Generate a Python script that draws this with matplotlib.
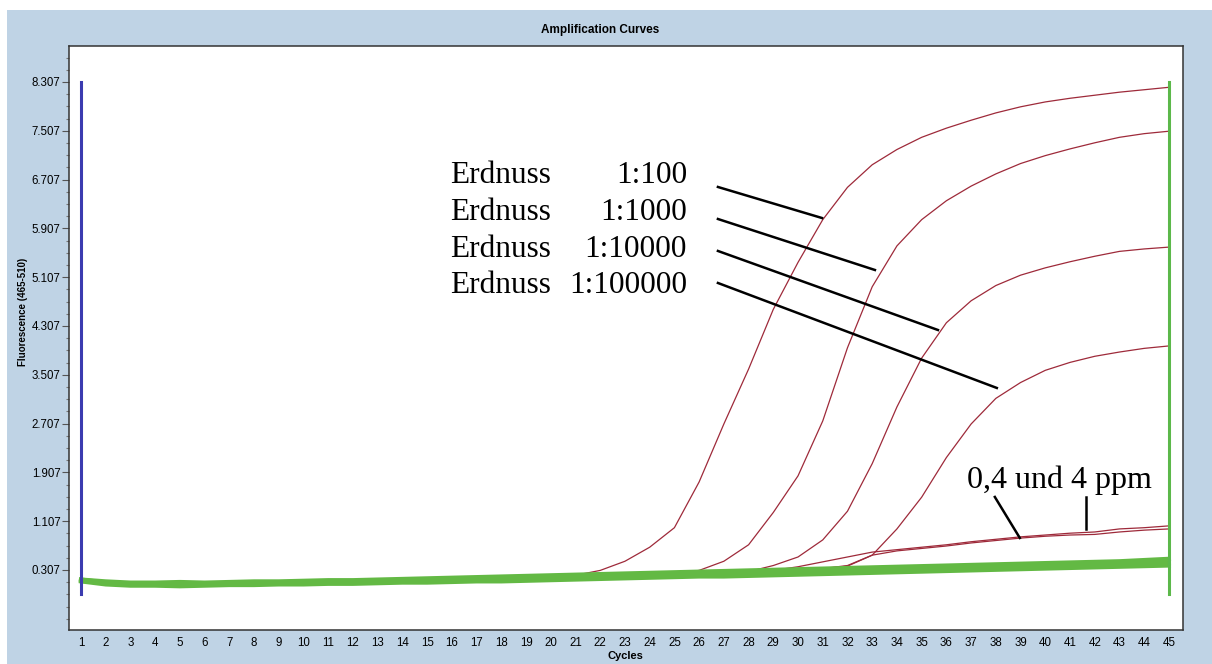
import numpy as np
import matplotlib.pyplot as plt
from matplotlib.patches import Rectangle

cycles = np.arange(1, 46)

# peanut dilution series
erdnuss_100 = [0.14, 0.10, 0.08, 0.08, 0.08, 0.07, 0.08, 0.08, 0.09, 0.09,
               0.10, 0.10, 0.11, 0.12, 0.13, 0.13, 0.14, 0.15, 0.16, 0.18,
               0.22, 0.30, 0.45, 0.68, 1.00, 1.75, 2.70, 3.60, 4.58, 5.35,
               6.05, 6.58, 6.95, 7.20, 7.40, 7.55, 7.68, 7.80, 7.90, 7.98,
               8.04, 8.09, 8.14, 8.18, 8.22]
erdnuss_1000 = [0.13, 0.09, 0.07, 0.07, 0.07, 0.07, 0.08, 0.08, 0.09, 0.09,
                0.10, 0.10, 0.11, 0.12, 0.12, 0.13, 0.14, 0.15, 0.16, 0.17,
                0.18, 0.19, 0.21, 0.22, 0.24, 0.30, 0.45, 0.72, 1.25, 1.85,
                2.75, 3.95, 4.95, 5.62, 6.05, 6.36, 6.60, 6.80, 6.97, 7.10,
                7.21, 7.31, 7.40, 7.46, 7.50]
erdnuss_10000 = [0.12, 0.09, 0.07, 0.06, 0.07, 0.06, 0.07, 0.08, 0.08, 0.09,
                 0.09, 0.10, 0.11, 0.11, 0.12, 0.13, 0.14, 0.15, 0.16, 0.17,
                 0.17, 0.18, 0.19, 0.20, 0.21, 0.23, 0.25, 0.28, 0.38, 0.52,
                 0.80, 1.27, 2.05, 2.98, 3.78, 4.36, 4.72, 4.97, 5.14, 5.26,
                 5.36, 5.45, 5.53, 5.57, 5.60]
erdnuss_100000 = [0.14, 0.10, 0.08, 0.07, 0.07, 0.07, 0.07, 0.08, 0.08, 0.09,
                  0.10, 0.10, 0.11, 0.12, 0.12, 0.13, 0.14, 0.15, 0.15, 0.16,
                  0.17, 0.18, 0.19, 0.20, 0.21, 0.22, 0.23, 0.25, 0.27, 0.30,
                  0.33, 0.37, 0.55, 0.98, 1.50, 2.15, 2.70, 3.12, 3.38, 3.58,
                  3.71, 3.81, 3.88, 3.94, 3.98]

# 0.4 and 4 ppm samples
ppm_4 = [0.13, 0.10, 0.08, 0.07, 0.07, 0.07, 0.08, 0.08, 0.09, 0.09,
         0.10, 0.11, 0.11, 0.12, 0.13, 0.13, 0.14, 0.15, 0.16, 0.17,
         0.18, 0.19, 0.20, 0.21, 0.22, 0.23, 0.24, 0.26, 0.30, 0.36,
         0.44, 0.52, 0.60, 0.64, 0.68, 0.72, 0.77, 0.81, 0.85, 0.88,
         0.91, 0.93, 0.98, 1.00, 1.03]
ppm_04 = [0.12, 0.09, 0.07, 0.07, 0.06, 0.06, 0.07, 0.07, 0.08, 0.09,
          0.09, 0.10, 0.11, 0.11, 0.12, 0.13, 0.13, 0.14, 0.15, 0.16,
          0.17, 0.18, 0.19, 0.20, 0.21, 0.22, 0.23, 0.25, 0.28, 0.30,
          0.33, 0.38, 0.55, 0.62, 0.66, 0.70, 0.75, 0.79, 0.83, 0.86,
          0.88, 0.89, 0.93, 0.96, 0.98]

# negative controls
neg_1 = [0.15, 0.10, 0.08, 0.08, 0.08, 0.08, 0.09, 0.09, 0.10, 0.10,
         0.11, 0.11, 0.12, 0.13, 0.14, 0.14, 0.15, 0.16, 0.17, 0.18,
         0.19, 0.20, 0.21, 0.22, 0.23, 0.24, 0.25, 0.26, 0.27, 0.28,
         0.29, 0.30, 0.31, 0.32, 0.33, 0.34, 0.35, 0.36, 0.37, 0.38,
         0.39, 0.40, 0.41, 0.42, 0.43]
neg_2 = [0.12, 0.07, 0.05, 0.05, 0.04, 0.05, 0.06, 0.06, 0.07, 0.07,
         0.08, 0.08, 0.09, 0.10, 0.10, 0.11, 0.12, 0.12, 0.13, 0.14,
         0.15, 0.16, 0.17, 0.18, 0.19, 0.20, 0.20, 0.21, 0.22, 0.23,
         0.24, 0.25, 0.26, 0.27, 0.28, 0.29, 0.30, 0.31, 0.32, 0.33,
         0.34, 0.35, 0.36, 0.37, 0.38]
neg_3 = [0.15, 0.12, 0.10, 0.10, 0.11, 0.10, 0.11, 0.12, 0.12, 0.13,
         0.14, 0.14, 0.15, 0.16, 0.17, 0.18, 0.19, 0.20, 0.21, 0.22,
         0.23, 0.24, 0.25, 0.26, 0.27, 0.28, 0.29, 0.30, 0.31, 0.32,
         0.33, 0.34, 0.35, 0.36, 0.37, 0.38, 0.39, 0.40, 0.41, 0.42,
         0.43, 0.44, 0.45, 0.47, 0.49]
neg_4 = [0.13, 0.09, 0.07, 0.07, 0.07, 0.07, 0.08, 0.08, 0.09, 0.09,
         0.10, 0.10, 0.11, 0.12, 0.13, 0.13, 0.14, 0.15, 0.16, 0.17,
         0.18, 0.19, 0.20, 0.21, 0.22, 0.23, 0.24, 0.25, 0.26, 0.27,
         0.28, 0.28, 0.29, 0.30, 0.31, 0.32, 0.33, 0.34, 0.35, 0.36,
         0.37, 0.38, 0.39, 0.40, 0.41]

dilution_labels = ["1:100", "1:1000", "1:10000", "1:100000"]
y_ticks = [0.307, 1.107, 1.907, 2.707, 3.507, 4.307, 5.107, 5.907, 6.707, 7.507, 8.307]

RED = "#9e2a3a"
GREEN = "#63b944"
SANS = "Liberation Sans"
SERIF = "Liberation Serif"

fig = plt.figure(figsize=(12.12, 6.64), dpi=100)
fig.patch.set_facecolor("white")
fig.patches.append(Rectangle((7 / 1212, 0), 1, 654 / 664, transform=fig.transFigure,
                             facecolor="#bfd3e5", edgecolor="none", zorder=-10))

ax = fig.add_axes([69 / 1212, 34 / 664, (1183 - 69) / 1212, (630 - 46) / 664])
ax.set_facecolor("white")

for ys in [erdnuss_100, erdnuss_1000, erdnuss_10000, erdnuss_100000, ppm_4, ppm_04]:
    ax.plot(cycles, ys, color=RED, lw=0.9, zorder=2)
for ys in [neg_1, neg_2, neg_3, neg_4]:
    ax.plot(cycles, ys, color=GREEN, lw=3.0, zorder=3)

# cycle range markers
ax.plot([1, 1], [-0.087, 8.307], color="#3b3bb0", lw=2.2, zorder=4)
ax.plot([45, 45], [-0.087, 8.307], color="#5cb84a", lw=2.2, zorder=4)

ax.set_xlim(0.515, 45.57)
ax.set_ylim(-0.677, 8.897)
ax.set_xticks(cycles)
ax.set_xticklabels([str(c) for c in cycles])
ax.set_yticks(y_ticks)
ax.set_yticklabels([f"{v:.3f}" for v in y_ticks])
ax.set_yticks(np.arange(-0.493, 8.9, 0.2), minor=True)
ax.tick_params(axis="x", length=0, pad=5, labelsize=8.3)
ax.tick_params(axis="y", which="major", length=5, width=0.8, pad=1, labelsize=8.3, color="#555555")
ax.tick_params(axis="y", which="minor", length=2.5, width=0.8, color="#777777")
for lab in ax.get_xticklabels() + ax.get_yticklabels():
    lab.set_fontfamily(SANS)
for side in ["left", "bottom", "right", "top"]:
    ax.spines[side].set_color("#333333")
    ax.spines[side].set_linewidth(1.1)

# dilution annotations
label_base = [6.65, 6.045, 5.44, 4.85]
line_start = [(26.76, 6.586), (26.76, 6.061), (26.76, 5.537), (26.76, 5.012)]
line_end = [(30.97, 6.077), (33.11, 5.225), (35.66, 4.241), (38.04, 3.291)]
for lab, yb, p0, p1 in zip(dilution_labels, label_base, line_start, line_end):
    ax.text(15.92, yb, "Erdnuss", fontsize=22.5, family=SERIF, va="baseline", ha="left", zorder=6)
    ax.text(25.51, yb, lab, fontsize=22.5, family=SERIF, va="baseline", ha="right", zorder=6)
    ax.plot([p0[0], p1[0]], [p0[1], p1[1]], color="black", lw=1.8, zorder=6)

ax.text(40.59, 1.651, "0,4 und 4 ppm", fontsize=23, family=SERIF, va="baseline", ha="center", zorder=6)
ax.plot([37.96, 38.97], [1.504, 0.832], color="black", lw=1.8, zorder=6)
ax.plot([41.64, 41.64], [1.504, 0.979], color="black", lw=1.8, zorder=6)

fig.text(600 / 1212, 1 - 30 / 664, "Amplification Curves", fontsize=8.5, fontweight="bold",
         family=SANS, ha="center", va="center")
fig.text(625 / 1212, 1 - 656 / 664, "Cycles", fontsize=8, fontweight="bold",
         family=SANS, ha="center", va="center")
fig.text(23 / 1212, 1 - 312 / 664, "Fluorescence (465-510)", fontsize=7, fontweight="bold",
         family=SANS, ha="center", va="center", rotation=90)

fig.savefig("out.png", dpi=100, facecolor=fig.get_facecolor())
